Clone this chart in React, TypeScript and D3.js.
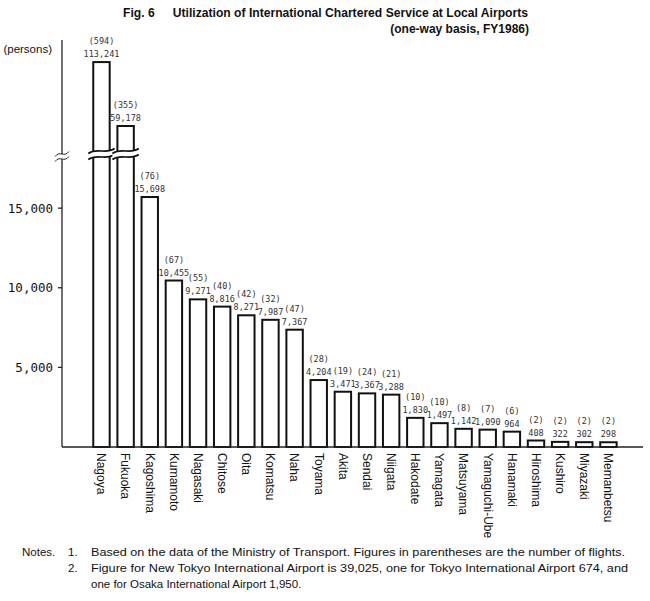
import React from 'react'
import * as d3 from 'd3'

const airports = [
  'Nagoya', 'Fukuoka', 'Kagoshima', 'Kumamoto', 'Nagasaki', 'Chitose', 'Oita',
  'Komatsu', 'Naha', 'Toyama', 'Akita', 'Sendai', 'Niigata', 'Hakodate',
  'Yamagata', 'Matsuyama', 'Yamaguchi-Ube', 'Hanamaki', 'Hiroshima', 'Kushiro',
  'Miyazaki', 'Memanbetsu',
]
const passengers = [
  113241, 59178, 15698, 10455, 9271, 8816, 8271, 7987, 7367, 4204, 3471, 3367,
  3288, 1830, 1497, 1142, 1090, 964, 408, 322, 302, 298,
]
const flights = [
  594, 355, 76, 67, 55, 40, 42, 32, 47, 28, 19, 24, 21, 10, 10, 8, 7, 6, 2, 2, 2, 2,
]
const yTicks = [5000, 10000, 15000]
// the axis is cut between these two values
const breakLow = 18400
const breakHigh = 35500

const title = 'Fig. 6\u2003\u2002Utilization of International Chartered Service at Local Airports'
const subtitle = '(one-way basis, FY1986)'
const notes = [
  'Based on the data of the Ministry of Transport. Figures in parentheses are the number of flights.',
  'Figure for New Tokyo International Airport is 39,025, one for Tokyo International Airport 674, and',
  'one for Osaka International Airport 1,950.',
]

const W = 650
const H = 601
const axisX = 62
const baseY = 447
const breakY = 154

const fmt = d3.format(',')

// rough "~" shaped line used for the cuts
function wave(x0: number, x1: number, y: number) {
  const w = x1 - x0
  return `M${x0},${y + 2.5} C${x0 + w * 0.35},${y - 4} ${x0 + w * 0.65},${y + 4} ${x1},${y - 2.5}`
}
function waveBand(x0: number, x1: number, y: number, gap: number) {
  const w = x1 - x0
  const y2 = y + gap
  return (
    `M${x0},${y + 2.5} C${x0 + w * 0.35},${y - 4} ${x0 + w * 0.65},${y + 4} ${x1},${y - 2.5}` +
    ` L${x1},${y2 - 2.5} C${x0 + w * 0.65},${y2 + 4} ${x0 + w * 0.35},${y2 - 4} ${x0},${y2 + 2.5} Z`
  )
}

export default function App() {
  const x = d3
    .scaleBand<string>()
    .domain(airports)
    .range([89.4, 620.5])
    .paddingInner(0.32)
    .paddingOuter(0.16)

  const y = d3
    .scaleLinear()
    .domain([0, breakLow, breakHigh, 115000])
    .range([baseY, breakY, breakY, 60])

  const bw = x.bandwidth()
  const numFont = "'DejaVu Sans Mono', monospace"
  const sans = "'Liberation Sans', Arial, sans-serif"

  return (
    <div style={{ position: 'absolute', left: 0, top: 0 }}>
      <svg width={W} height={H} style={{ display: 'block', background: '#fff' }}>
        {/* title */}
        <text
          x={123}
          y={17}
          fontFamily={sans}
          fontWeight="bold"
          fontSize={12}
          textLength={405}
          lengthAdjust="spacingAndGlyphs"
          fill="#111"
        >
          {title}
        </text>
        <text
          x={529}
          y={33}
          textAnchor="end"
          fontFamily={sans}
          fontWeight="bold"
          fontSize={12}
          fill="#111"
        >
          {subtitle}
        </text>

        <text x={52} y={53} textAnchor="end" fontFamily={sans} fontSize={11.5} fill="#111">
          (persons)
        </text>

        {/* y axis */}
        <line x1={axisX} x2={axisX} y1={40} y2={baseY} stroke="#222" strokeWidth={1.3} />
        {yTicks.map((t) => (
          <g key={t}>
            <line x1={axisX - 4} x2={axisX} y1={y(t)} y2={y(t)} stroke="#222" strokeWidth={1.3} />
            <text
              x={53}
              y={y(t)}
              dy="0.36em"
              textAnchor="end"
              fontFamily={numFont}
              fontSize={12.5}
              fill="#111"
            >
              {fmt(t)}
            </text>
          </g>
        ))}
        <path d={waveBand(axisX - 7, axisX + 7, breakY, 5)} fill="#fff" />
        <path d={wave(axisX - 7, axisX + 7, breakY)} fill="none" stroke="#222" strokeWidth={1} />
        <path d={wave(axisX - 7, axisX + 7, breakY + 5)} fill="none" stroke="#222" strokeWidth={1} />

        {/* bars */}
        {airports.map((a, i) => {
          const v = passengers[i]
          const x0 = x(a) as number
          const top = y(v)
          const cx = x0 + bw / 2
          return (
            <g key={a}>
              <rect
                x={x0}
                y={top}
                width={bw}
                height={baseY - top}
                fill="#fff"
                stroke="#111"
                strokeWidth={2}
              />
              {v > breakLow && (
                <g>
                  <path d={waveBand(x0 - 5, x0 + bw + 5, breakY - 3, 6)} fill="#fff" />
                  <path d={wave(x0 - 5, x0 + bw + 5, breakY - 3)} fill="none" stroke="#111" strokeWidth={1.6} />
                  <path d={wave(x0 - 5, x0 + bw + 5, breakY + 3)} fill="none" stroke="#111" strokeWidth={1.6} />
                </g>
              )}
              <text
                x={cx}
                y={top - 5}
                textAnchor="middle"
                fontFamily={numFont}
                fontSize={8.5}
                fill="#333"
              >
                {fmt(v)}
              </text>
              <text
                x={cx}
                y={top - 18}
                textAnchor="middle"
                fontFamily={numFont}
                fontSize={8.5}
                fill="#333"
              >
                ({flights[i]})
              </text>
              <text
                transform={`translate(${cx},453) rotate(90)`}
                dy="0.35em"
                fontFamily={sans}
                fontSize={12}
                fill="#111"
              >
                {a}
              </text>
            </g>
          )
        })}

        {/* x axis */}
        <line x1={axisX} x2={643} y1={baseY} y2={baseY} stroke="#222" strokeWidth={1.3} />

        {/* notes */}
        <g fontFamily={sans} fontSize={11.5} fill="#111">
          <text x={22} y={556}>Notes.</text>
          <text x={68} y={556}>1.</text>
          <text x={91} y={556} textLength={534} lengthAdjust="spacingAndGlyphs">{notes[0]}</text>
          <text x={68} y={572}>2.</text>
          <text x={91} y={572} textLength={537} lengthAdjust="spacingAndGlyphs">{notes[1]}</text>
          <text x={91} y={588}>{notes[2]}</text>
        </g>
      </svg>
    </div>
  )
}
